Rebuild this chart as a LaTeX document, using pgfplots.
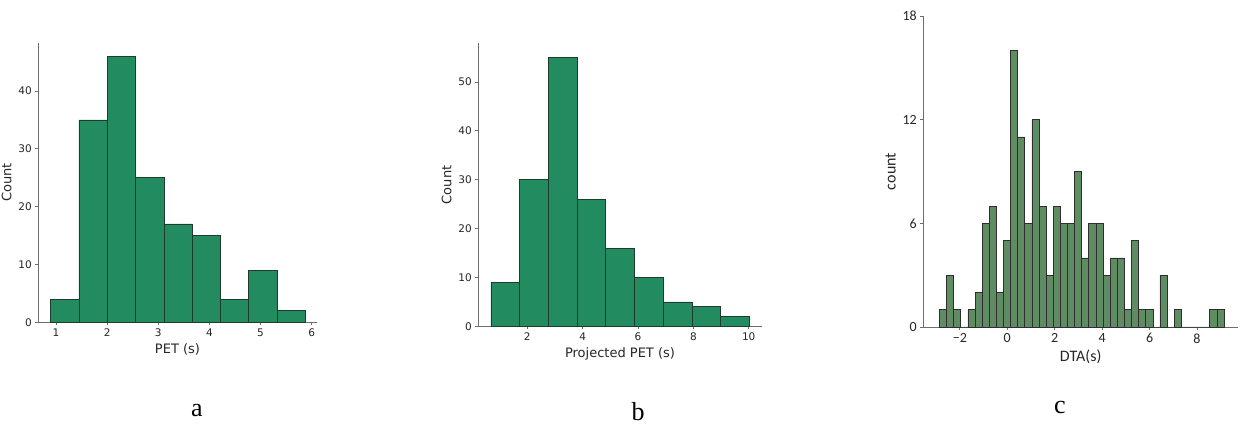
\documentclass[border=0pt]{standalone}
\usepackage{fontspec}
\setmainfont{DejaVu Sans}
\newfontfamily\carlito{Carlito}
\newfontfamily\tnr{Liberation Serif}
\usepackage{pgfplots}
\pgfplotsset{compat=1.18}
\definecolor{histgreen}{HTML}{228B5F}
\definecolor{histedge}{HTML}{1F3B2C}
\definecolor{cgreen}{HTML}{5F8C63}
\definecolor{cedge}{HTML}{2E2E2E}
\definecolor{spine}{HTML}{6E6E6E}
\pgfplotsset{
  mystyle/.style={
    scale only axis,
    anchor=south west,
    axis x line*=bottom, axis y line*=left,
    axis line style={spine, line width=0.9pt, -},
    tick align=outside, major tick length=3pt,
    tick style={spine, line width=0.8pt},
    /pgf/number format/assume math mode=true,
    clip=false,
  },
  abstyle/.style={
    mystyle,
    tick label style={font=\fontsize{10.5}{12}\selectfont, text=black!85},
    label style={font=\fontsize{13}{15}\selectfont, text=black!85},
  },
}
\begin{document}
\begin{tikzpicture}
\useasboundingbox (0pt,0pt) rectangle (1247pt,427pt);
% panel a
\begin{axis}[abstyle, at={(38.3pt,104.7pt)}, width=278.4pt, height=279.3pt,
  xmin=0.654, xmax=6.10, ymin=0, ymax=48.3,
  xtick={1,2,3,4,5,6}, ytick={0,10,20,30,40},
  xlabel={PET (s)}, ylabel={Count}]
\addplot[ybar interval, fill=histgreen, draw=histedge, line width=0.6pt] coordinates {
(0.896,4) (1.450,35) (2.003,46) (2.557,25) (3.110,17) (3.664,15) (4.218,4) (4.771,9) (5.325,2) (5.880,0)};
\end{axis}
% panel b
\begin{axis}[abstyle, at={(478.3pt,100.7pt)}, width=283.4pt, height=283pt,
  xmin=0.229, xmax=10.47, ymin=0, ymax=57.9,
  xtick={2,4,6,8,10}, ytick={0,10,20,30,40,50},
  xlabel={Projected PET (s)}, ylabel={Count}]
\addplot[ybar interval, fill=histgreen, draw=histedge, line width=0.6pt] coordinates {
(0.687,9) (1.724,30) (2.761,55) (3.798,26) (4.835,16) (5.872,10) (6.909,5) (7.946,4) (8.983,2) (10.02,0)};
\end{axis}
% panel c
\begin{axis}[mystyle, at={(923.3pt,100pt)}, width=314.7pt, height=311pt,
  xmin=-3.54, xmax=9.73, ymin=0, ymax=18,
  xtick={-2,0,2,4,6,8}, xticklabels={−2,0,2,4,6,8}, ytick={0,6,12,18},
  tick label style={font=\carlito\fontsize{14}{16}\selectfont, text=black!85},
  label style={font=\carlito\fontsize{16}{19}\selectfont, text=black!85},
  xlabel={DTA(s)}, ylabel={count}]
\addplot[ybar interval=0.92, fill=cgreen, draw=cedge, line width=0.7pt] coordinates {
(-2.86,1) (-2.56,3) (-2.26,1) (-1.96,0) (-1.66,1) (-1.36,2) (-1.06,6) (-0.76,7) (-0.46,2) (-0.16,5)
(0.14,16) (0.44,11) (0.74,6) (1.04,12) (1.34,7) (1.64,3) (1.94,7) (2.24,6) (2.54,6) (2.84,9)
(3.14,4) (3.44,6) (3.74,6) (4.04,3) (4.34,4) (4.64,4) (4.94,1) (5.24,5) (5.54,1) (5.84,1)
(6.14,0) (6.44,3) (6.74,0) (7.04,1) (7.34,0) (7.64,0) (7.94,0) (8.24,0) (8.54,1) (8.84,1) (9.14,0)};
\end{axis}
\node[font=\tnr\fontsize{26}{28}\selectfont] at (197pt,16pt) {a};
\node[font=\tnr\fontsize{26}{28}\selectfont] at (638pt,15pt) {b};
\node[font=\tnr\fontsize{26}{28}\selectfont] at (1060pt,19pt) {c};
\end{tikzpicture}
\end{document}
